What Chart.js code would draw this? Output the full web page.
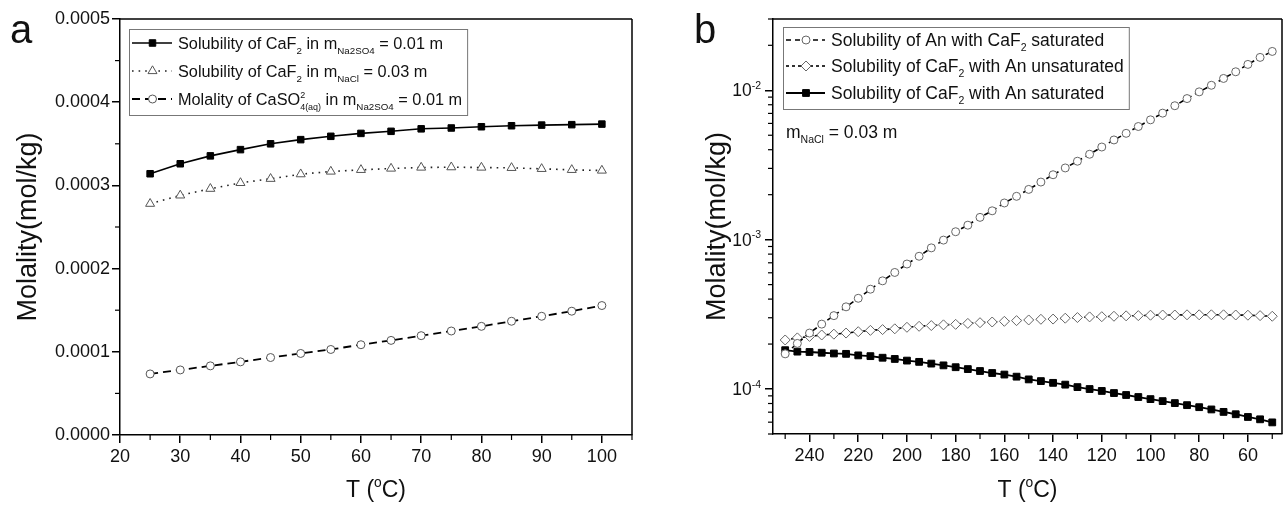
<!DOCTYPE html>
<html>
<head>
<meta charset="utf-8">
<script src="https://cdn.jsdelivr.net/npm/chart.js@4.4.0/dist/chart.umd.min.js"></script>
<style>
  html, body { margin: 0; padding: 0; background: #fff; }
  #wrap { position: relative; width: 1288px; height: 505px; }
  canvas { position: absolute; top: 0; }
  #ca { left: 0; }
  #cb { left: 644px; }
</style>
</head>
<body>
<div id="wrap">
  <canvas id="ca" width="644" height="505"></canvas>
  <canvas id="cb" width="644" height="505"></canvas>
</div>
<script>
// panel a
const tempA = [25, 30, 35, 40, 45, 50, 55, 60, 65, 70, 75, 80, 85, 90, 95, 100];
const caf2InNa2so4 = [0.000314, 0.000326, 0.0003355, 0.000343, 0.00035, 0.000355, 0.000359, 0.0003625,
  0.000365, 0.000368, 0.000369, 0.0003705, 0.0003717, 0.0003725, 0.000373, 0.0003737];
const caf2InNacl = [0.000278, 0.000288, 0.000296, 0.000303, 0.000308, 0.0003135, 0.0003167, 0.0003187,
  0.0003203, 0.0003215, 0.0003219, 0.0003215, 0.0003211, 0.0003199, 0.0003187, 0.0003179];
const caso4AqInNa2so4 = [0.0000734, 0.0000782, 0.0000831, 0.0000879, 0.0000931, 0.000098, 0.0001028, 0.0001085,
  0.0001137, 0.0001194, 0.000125, 0.0001306, 0.0001367, 0.0001427, 0.0001488, 0.0001556];
const xTicksA = [20, 30, 40, 50, 60, 70, 80, 90, 100];
const yTicksA = [0, 0.0001, 0.0002, 0.0003, 0.0004, 0.0005];

// panel b
const tempB = [250, 245, 240, 235, 230, 225, 220, 215, 210, 205, 200, 195, 190, 185, 180, 175, 170,
  165, 160, 155, 150, 145, 140, 135, 130, 125, 120, 115, 110, 105, 100, 95, 90, 85, 80, 75, 70, 65, 60, 55, 50];
const anWithCaf2Sat = [1.72e-4, 2.02e-4, 2.37e-4, 2.72e-4, 3.10e-4, 3.55e-4, 4.05e-4, 4.66e-4, 5.30e-4,
  6.03e-4, 6.87e-4, 7.74e-4, 8.81e-4, 9.93e-4, 1.13e-3, 1.25e-3, 1.41e-3, 1.56e-3, 1.76e-3, 1.95e-3,
  2.17e-3, 2.43e-3, 2.72e-3, 3.02e-3, 3.35e-3, 3.73e-3, 4.17e-3, 4.65e-3, 5.15e-3, 5.72e-3, 6.34e-3,
  7.03e-3, 7.88e-3, 8.80e-3, 9.76e-3, 1.08e-2, 1.20e-2, 1.33e-2, 1.49e-2, 1.66e-2, 1.82e-2];
const caf2WithAnUnsat = [2.13e-4, 2.20e-4, 2.25e-4, 2.30e-4, 2.33e-4, 2.37e-4, 2.42e-4, 2.47e-4, 2.50e-4,
  2.53e-4, 2.59e-4, 2.63e-4, 2.66e-4, 2.69e-4, 2.71e-4, 2.75e-4, 2.78e-4, 2.81e-4, 2.84e-4, 2.87e-4,
  2.90e-4, 2.93e-4, 2.94e-4, 2.98e-4, 3.01e-4, 3.04e-4, 3.05e-4, 3.07e-4, 3.09e-4, 3.10e-4, 3.12e-4,
  3.13e-4, 3.13e-4, 3.14e-4, 3.14e-4, 3.14e-4, 3.14e-4, 3.13e-4, 3.12e-4, 3.10e-4, 3.07e-4];
const caf2WithAnSat = [1.82e-4, 1.78e-4, 1.77e-4, 1.75e-4, 1.73e-4, 1.72e-4, 1.68e-4, 1.66e-4, 1.62e-4,
  1.59e-4, 1.55e-4, 1.52e-4, 1.48e-4, 1.44e-4, 1.40e-4, 1.36e-4, 1.32e-4, 1.28e-4, 1.25e-4, 1.21e-4,
  1.16e-4, 1.13e-4, 1.10e-4, 1.07e-4, 1.03e-4, 1.00e-4, 9.71e-5, 9.40e-5, 9.12e-5, 8.84e-5, 8.56e-5,
  8.30e-5, 8.05e-5, 7.80e-5, 7.56e-5, 7.30e-5, 7.03e-5, 6.78e-5, 6.50e-5, 6.27e-5, 5.98e-5];
const xTicksB = [240, 220, 200, 180, 160, 140, 120, 100, 80, 60];
const yTicksB = [1e-4, 1e-3, 1e-2];

const FONT = '"Liberation Sans", Arial, sans-serif';
const INK = '#111';
Chart.defaults.font.family = FONT;
Chart.defaults.color = INK;

const pts = (xs, ys) => xs.map((x, i) => ({ x: x, y: ys[i] }));

// text with sub/superscripts: plain strings, or {sup, sub}
function smallSize(p, size) {
  return size * (p.sup && p.sub ? 0.55 : 0.6);
}
function partWidth(ctx, p, size) {
  if (typeof p === 'string') {
    ctx.font = size + 'px ' + FONT;
    return ctx.measureText(p).width;
  }
  ctx.font = smallSize(p, size) + 'px ' + FONT;
  return Math.max(p.sup ? ctx.measureText(p.sup).width : 0, p.sub ? ctx.measureText(p.sub).width : 0);
}
function drawRich(ctx, parts, x, y, size, align) {
  const total = parts.reduce((a, p) => a + partWidth(ctx, p, size), 0);
  if (align === 'right') x -= total;
  else if (align === 'center') x -= total / 2;
  ctx.textAlign = 'left';
  ctx.textBaseline = 'alphabetic';
  ctx.fillStyle = INK;
  parts.forEach(p => {
    const w = partWidth(ctx, p, size);
    if (typeof p === 'string') {
      ctx.font = size + 'px ' + FONT;
      ctx.fillText(p, x, y);
    } else {
      ctx.font = smallSize(p, size) + 'px ' + FONT;
      if (p.sup) ctx.fillText(p.sup, x, y - size * 0.42);
      if (p.sub) ctx.fillText(p.sub, x, y + size * 0.3);
    }
    x += w;
  });
  return total;
}

function marker(ctx, ds, x, y) {
  const r = ds.pointRadius;
  ctx.beginPath();
  if (ds.pointStyle === 'rect') {
    const s = r * Math.SQRT1_2;
    ctx.rect(x - s, y - s, 2 * s, 2 * s);
  } else if (ds.pointStyle === 'circle') {
    ctx.arc(x, y, r, 0, Math.PI * 2);
  } else if (ds.pointStyle === 'triangle') {
    for (let k = 0; k < 3; k++) {
      const a = k * Math.PI * 2 / 3;
      ctx[k ? 'lineTo' : 'moveTo'](x + Math.sin(a) * r, y - Math.cos(a) * r);
    }
    ctx.closePath();
  } else if (ds.pointStyle === 'rectRot') {
    ctx.moveTo(x - r, y); ctx.lineTo(x, y - r); ctx.lineTo(x + r, y); ctx.lineTo(x, y + r);
    ctx.closePath();
  }
  ctx.setLineDash([]);
  ctx.fillStyle = ds.pointBackgroundColor;
  ctx.fill();
  ctx.lineWidth = ds.pointBorderWidth;
  ctx.strokeStyle = ds.pointBorderColor;
  ctx.stroke();
}

function tickMark(ctx, x1, y1, x2, y2) {
  ctx.beginPath();
  ctx.moveTo(x1, y1);
  ctx.lineTo(x2, y2);
  ctx.stroke();
}

// frame, minor ticks, titles, legend box
function decor(cfg) {
  return {
    id: 'decor',
    afterDraw(chart) {
      const ctx = chart.ctx;
      const a = chart.chartArea;
      const xs = chart.scales.x, ys = chart.scales.y;
      ctx.save();
      ctx.strokeStyle = '#000';
      ctx.lineWidth = 1.5;
      ctx.setLineDash([]);
      tickMark(ctx, a.left, a.top, a.right, a.top);
      tickMark(ctx, a.right, a.top, a.right, a.bottom);

      ctx.lineWidth = 1.2;
      cfg.minorX.forEach(v => {
        const px = xs.getPixelForValue(v);
        tickMark(ctx, px, a.bottom, px, a.bottom + 5);
      });
      cfg.minorY.forEach(v => {
        const py = ys.getPixelForValue(v);
        tickMark(ctx, a.left - 5, py, a.left, py);
      });

      if (cfg.logLabels) {
        cfg.logLabels.forEach(v => {
          const py = ys.getPixelForValue(v);
          drawRich(ctx, ['10', { sup: String(Math.round(Math.log10(v))) }], a.left - 12, py + 6, 17.5, 'right');
        });
      }

      // axis titles
      drawRich(ctx, ['T (', { sup: 'o' }, 'C)'], (a.left + a.right) / 2, 497, 23, 'center');
      ctx.save();
      ctx.translate(cfg.yTitleX, (a.top + a.bottom) / 2);
      ctx.rotate(-Math.PI / 2);
      ctx.font = '27px ' + FONT;
      ctx.fillStyle = INK;
      ctx.textAlign = 'center';
      ctx.textBaseline = 'middle';
      ctx.fillText('Molality(mol/kg)', 0, 0);
      ctx.restore();

      // panel letter
      ctx.font = '40px ' + FONT;
      ctx.fillStyle = INK;
      ctx.textAlign = 'left';
      ctx.textBaseline = 'alphabetic';
      ctx.fillText(cfg.letter, cfg.letterX, 43);

      // legend
      const lg = cfg.legend;
      let maxW = 0;
      lg.rows.forEach(r => { maxW = Math.max(maxW, r.parts.reduce((s, p) => s + partWidth(ctx, p, lg.size), 0)); });
      ctx.strokeStyle = '#777';
      ctx.lineWidth = 1;
      ctx.strokeRect(lg.left + 0.5, lg.top + 0.5, lg.textX + maxW + 5 - lg.left, lg.bottom - lg.top);
      lg.rows.forEach((r, i) => {
        const ds = chart.data.datasets[r.ds];
        const y = lg.rowY[i];
        ctx.strokeStyle = ds.borderColor;
        ctx.lineWidth = ds.borderWidth;
        ctx.setLineDash(ds.borderDash || []);
        tickMark(ctx, lg.left + 3, y, lg.textX - 6, y);
        marker(ctx, ds, (lg.left + lg.textX) / 2 - 1, y);
        drawRich(ctx, r.parts, lg.textX, y + 6, lg.size, 'left');
      });

      if (cfg.note) drawRich(ctx, cfg.note.parts, cfg.note.x, cfg.note.y, cfg.note.size, 'left');
      ctx.restore();
    }
  };
}

const axisLine = { color: '#000', width: 1.5 };
const majorTick = { drawOnChartArea: false, tickLength: 8, color: '#000', lineWidth: 1.5 };

new Chart(document.getElementById('ca'), {
  type: 'line',
  data: {
    datasets: [
      { data: pts(tempA, caf2InNa2so4), borderColor: '#000', borderWidth: 1.6,
        pointStyle: 'rect', pointRadius: 4.6, pointBackgroundColor: '#000', pointBorderColor: '#000', pointBorderWidth: 1 },
      { data: pts(tempA, caf2InNacl), borderColor: '#222', borderWidth: 1.6, borderDash: [1.6, 5],
        pointStyle: 'triangle', pointRadius: 5.2, pointBackgroundColor: '#fff', pointBorderColor: '#555', pointBorderWidth: 1 },
      { data: pts(tempA, caso4AqInNa2so4), borderColor: '#000', borderWidth: 1.8, borderDash: [8, 5],
        pointStyle: 'circle', pointRadius: 4, pointBackgroundColor: '#fff', pointBorderColor: '#555', pointBorderWidth: 1 }
    ]
  },
  options: {
    responsive: false,
    animation: false,
    events: [],
    layout: { padding: { top: 19, right: 12, left: 0, bottom: 0 } },
    plugins: { legend: { display: false }, tooltip: { enabled: false } },
    scales: {
      x: {
        type: 'linear', min: 20, max: 105,
        afterBuildTicks: s => { s.ticks = xTicksA.map(v => ({ value: v })); },
        afterFit: s => { s.height = 70; },
        ticks: { font: { size: 18 }, color: INK, padding: 3, maxRotation: 0, autoSkip: false },
        grid: majorTick, border: axisLine
      },
      y: {
        type: 'linear', min: 0, max: 0.0005,
        afterBuildTicks: s => { s.ticks = yTicksA.map(v => ({ value: v })); },
        afterFit: s => { s.width = 120; },
        ticks: { font: { size: 18 }, color: INK, padding: 2, callback: v => v.toFixed(4) },
        grid: majorTick, border: axisLine
      }
    }
  },
  plugins: [decor({
    minorX: [25, 35, 45, 55, 65, 75, 85, 95, 105],
    minorY: [0.00005, 0.00015, 0.00025, 0.00035, 0.00045],
    yTitleX: 29, letter: 'a', letterX: 10,
    legend: {
      left: 129, top: 29, bottom: 115, textX: 178, rowY: [43, 71, 99], size: 16.3,
      rows: [
        { ds: 0, parts: ['Solubility of CaF', { sub: '2' }, ' in m', { sub: 'Na2SO4' }, ' = 0.01 m'] },
        { ds: 1, parts: ['Solubility of CaF', { sub: '2' }, ' in m', { sub: 'NaCl' }, ' = 0.03 m'] },
        { ds: 2, parts: ['Molality of CaSO', { sup: '2', sub: '4(aq)' }, ' in m', { sub: 'Na2SO4' }, ' = 0.01 m'] }
      ]
    }
  })]
});

const logMinors = [];
[-5, -4, -3, -2].forEach(d => {
  for (let m = 2; m <= 9; m++) {
    const v = m * Math.pow(10, d);
    if (v >= 5e-5 && v <= 0.03) logMinors.push(v);
  }
});

new Chart(document.getElementById('cb'), {
  type: 'line',
  data: {
    datasets: [
      { data: pts(tempB, anWithCaf2Sat), borderColor: '#000', borderWidth: 1.6, borderDash: [5, 4],
        pointStyle: 'circle', pointRadius: 4, pointBackgroundColor: '#fff', pointBorderColor: '#666', pointBorderWidth: 1 },
      { data: pts(tempB, caf2WithAnUnsat), borderColor: '#000', borderWidth: 1.6, borderDash: [3, 3],
        pointStyle: 'rectRot', pointRadius: 5, pointBackgroundColor: '#fff', pointBorderColor: '#666', pointBorderWidth: 1 },
      { data: pts(tempB, caf2WithAnSat), borderColor: '#000', borderWidth: 1.8,
        pointStyle: 'rect', pointRadius: 4.8, pointBackgroundColor: '#000', pointBorderColor: '#000', pointBorderWidth: 1 }
    ]
  },
  options: {
    responsive: false,
    animation: false,
    events: [],
    layout: { padding: { top: 19, right: 4, left: 0, bottom: 0 } },
    plugins: { legend: { display: false }, tooltip: { enabled: false } },
    scales: {
      x: {
        type: 'linear', min: 46, max: 255, reverse: true,
        afterBuildTicks: s => { s.ticks = xTicksB.map(v => ({ value: v })); },
        afterFit: s => { s.height = 71; },
        ticks: { font: { size: 18 }, color: INK, padding: 3, maxRotation: 0, autoSkip: false },
        grid: majorTick, border: axisLine
      },
      y: {
        type: 'logarithmic', min: 5e-5, max: 0.03,
        afterBuildTicks: s => { s.ticks = yTicksB.map(v => ({ value: v })); },
        afterFit: s => { s.width = 129; },
        ticks: { display: false },
        grid: majorTick, border: axisLine
      }
    }
  },
  plugins: [decor({
    minorX: [250, 230, 210, 190, 170, 150, 130, 110, 90, 70, 50],
    minorY: logMinors,
    logLabels: yTicksB,
    yTitleX: 74, letter: 'b', letterX: 50,
    legend: {
      left: 139, top: 27, bottom: 109, textX: 187, rowY: [40, 66, 93], size: 17.5,
      rows: [
        { ds: 0, parts: ['Solubility of An with CaF', { sub: '2' }, ' saturated'] },
        { ds: 1, parts: ['Solubility of CaF', { sub: '2' }, ' with An unsaturated'] },
        { ds: 2, parts: ['Solubility of CaF', { sub: '2' }, ' with An saturated'] }
      ]
    },
    note: { x: 142, y: 138, size: 17.5, parts: ['m', { sub: 'NaCl' }, ' = 0.03 m'] }
  })]
});
</script>
</body>
</html>
